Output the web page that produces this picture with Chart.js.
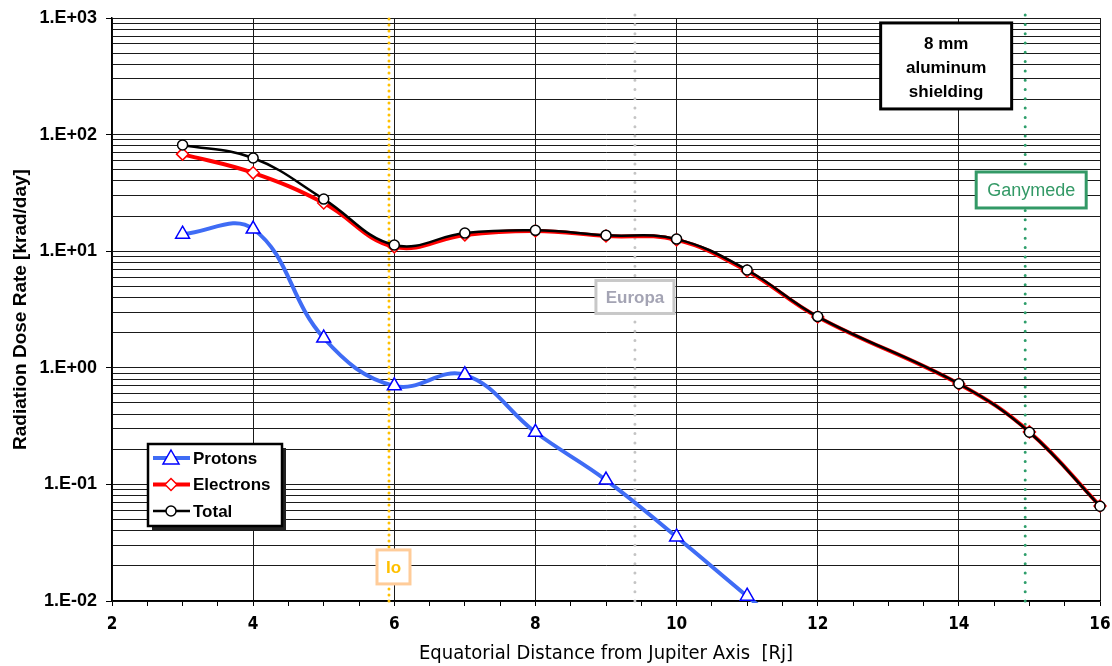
<!DOCTYPE html>
<html>
<head>
<meta charset="utf-8">
<script src="https://cdn.jsdelivr.net/npm/chart.js@4.4.1/dist/chart.umd.min.js"></script>
<style>
  body { margin: 0; background: #fff; }
  #wrap { width: 1112px; height: 666px; }
</style>
</head>
<body>
<div id="wrap"><canvas id="doseChart" width="1112" height="666"></canvas></div>
<script>
// values (krad/day)
const protonX = [3, 4, 5, 6, 7, 8, 9, 10, 11, 12];
const protons = [14.0, 15.5, 1.8, 0.70, 0.87, 0.28, 0.109, 0.0354, 0.011, 0.0035];
const electronX = [3, 4, 5, 6, 7, 8, 9, 10, 11, 12, 14, 15, 16];
const electrons = [68, 47, 25.9, 10.9, 13.8, 14.9, 13.5, 12.5, 6.76, 2.73, 0.727, 0.282, 0.0653];
const total = [81.5, 63, 28, 11.3, 14.3, 15.1, 13.7, 12.7, 6.9, 2.75, 0.73, 0.28, 0.065];

const xTickLabels = ['2', '4', '6', '8', '10', '12', '14', '16'];
const yTickLabels = ['1.E-02', '1.E-01', '1.E+00', '1.E+01', '1.E+02', '1.E+03'];

const moons = ['Io', 'Europa', 'Ganymede'];
const moonX = [5.925, 9.41, 14.94];
const moonLabelY = [0.0196, 4.05, 33.5];

const narrow = "'Liberation Sans Narrow', 'DejaVu Sans Condensed', Arial, sans-serif";
const sans = "'Liberation Sans', Arial, sans-serif";

const pts = (xs, ys) => xs.map((x, i) => ({ x: x, y: ys[i] }));
const isPow10 = v => Math.abs(Math.log10(v) - Math.round(Math.log10(v))) < 1e-9;

const moonStyle = [
  { line: '#FFC000', gap: 6, box: '#FFCC99', text: '#FFC000', font: 'bold 17px ' + sans, w: 33, h: 34, dx: 4.5 },
  { line: '#C4C4C4', gap: 9.3, box: '#C8C8C8', text: '#A4A4B4', font: 'bold 17px ' + sans, w: 78, h: 33, dx: 0 },
  { line: '#2E9E6B', gap: 9.3, box: '#339966', text: '#339966', font: '18px ' + sans, w: 110, h: 36, dx: 6 }
];

function box(ctx, cx, cy, w, h, border, lw) {
  ctx.fillStyle = '#fff';
  ctx.fillRect(cx - w / 2, cy - h / 2, w, h);
  ctx.strokeStyle = border;
  ctx.lineWidth = lw;
  ctx.strokeRect(cx - w / 2, cy - h / 2, w, h);
}

const overlay = {
  id: 'overlay',
  beforeDatasetsDraw(chart) {
    const { ctx, chartArea: a, scales: { x } } = chart;
    ctx.save();
    moons.forEach((m, i) => {
      const px = x.getPixelForValue(moonX[i]);
      ctx.strokeStyle = moonStyle[i].line;
      ctx.lineWidth = 3;
      ctx.lineCap = 'round';
      ctx.setLineDash([0, moonStyle[i].gap]);
      ctx.beginPath();
      ctx.moveTo(px, a.bottom);
      ctx.lineTo(px, a.top - 3);
      ctx.stroke();
    });
    ctx.restore();
  },
  afterDatasetsDraw(chart) {
    const { ctx, scales: { x, y } } = chart;
    ctx.save();
    ctx.textAlign = 'center';
    ctx.textBaseline = 'middle';

    // moon labels
    moons.forEach((m, i) => {
      const s = moonStyle[i];
      const cx = x.getPixelForValue(moonX[i]) + s.dx;
      const cy = y.getPixelForValue(moonLabelY[i]);
      box(ctx, cx, cy, s.w, s.h, s.box, 3);
      ctx.fillStyle = s.text;
      ctx.font = s.font;
      ctx.fillText(m, cx, cy + 1);
    });

    // shielding note
    const nx = x.getPixelForValue(13.82), ny = y.getPixelForValue(388);
    box(ctx, nx, ny, 131, 86, '#000', 3);
    ctx.fillStyle = '#000';
    ctx.font = 'bold 17px ' + sans;
    ['8 mm', 'aluminum', 'shielding'].forEach((t, k) => ctx.fillText(t, nx, ny - 22 + k * 24));

    // legend
    const lx = 148, ly = 444, lw = 134, lh = 82;
    ctx.fillStyle = '#222';
    ctx.fillRect(lx + 4, ly + 4, lw, lh);
    box(ctx, lx + lw / 2, ly + lh / 2, lw, lh, '#000', 2.5);
    ctx.textAlign = 'left';
    ctx.font = 'bold 17px ' + sans;
    chart.data.datasets.forEach((ds, k) => {
      const yy = ly + 14 + k * 26.5;
      ctx.strokeStyle = ds.borderColor;
      ctx.lineWidth = ds.borderWidth;
      ctx.beginPath();
      ctx.moveTo(lx + 5, yy);
      ctx.lineTo(lx + 42, yy);
      ctx.stroke();
      ctx.fillStyle = '#fff';
      ctx.strokeStyle = ds.pointBorderColor;
      ctx.lineWidth = 1.5;
      ctx.beginPath();
      const r = ds.pointRadius;
      if (ds.pointStyle === 'triangle') {
        ctx.moveTo(lx + 23, yy - r); ctx.lineTo(lx + 23 + r, yy + r * 0.75); ctx.lineTo(lx + 23 - r, yy + r * 0.75);
      } else if (ds.pointStyle === 'rectRot') {
        ctx.moveTo(lx + 23, yy - r); ctx.lineTo(lx + 23 + r, yy); ctx.lineTo(lx + 23, yy + r); ctx.lineTo(lx + 23 - r, yy);
      } else {
        ctx.arc(lx + 23, yy, r, 0, Math.PI * 2);
      }
      ctx.closePath();
      ctx.fill();
      ctx.stroke();
      ctx.fillStyle = '#000';
      ctx.fillText(ds.label, lx + 45, yy + 1);
    });
    ctx.restore();
  }
};

new Chart(document.getElementById('doseChart').getContext('2d'), {
  type: 'line',
  data: {
    datasets: [
      {
        label: 'Protons', data: pts(protonX, protons), order: 2,
        borderColor: '#3F6CF5', borderWidth: 4, tension: 0.4,
        pointStyle: 'triangle', pointRadius: 8, pointBorderColor: '#0000FF',
        pointBackgroundColor: '#fff', pointBorderWidth: 1.5,
        clip: { left: 10, top: 10, right: 10, bottom: 2 }
      },
      {
        label: 'Electrons', data: pts(electronX, electrons), order: 1,
        borderColor: '#FF0000', borderWidth: 4, tension: 0.4,
        pointStyle: 'rectRot', pointRadius: 6, pointBorderColor: '#FF0000',
        pointBackgroundColor: '#fff', pointBorderWidth: 1.5, clip: 10
      },
      {
        label: 'Total', data: pts(electronX, total), order: 0,
        borderColor: '#000', borderWidth: 2.5, tension: 0.4,
        pointStyle: 'circle', pointRadius: 5, pointBorderColor: '#000',
        pointBackgroundColor: '#fff', pointBorderWidth: 1.5, clip: 10
      }
    ]
  },
  options: {
    responsive: false,
    animation: false,
    devicePixelRatio: 1,
    layout: { padding: { left: 0, top: 18, right: 12, bottom: 0 } },
    plugins: { legend: { display: false }, tooltip: { enabled: false } },
    scales: {
      x: {
        type: 'linear', min: 2, max: 16,
        afterBuildTicks: s => {
          const t = [];
          for (let v = 2; v <= 16; v += 0.5) t.push({ value: v });
          s.ticks = t;
        },
        afterFit: s => { s.height = 65; s.paddingLeft = 0; s.paddingRight = 0; },
        ticks: {
          autoSkip: false, maxRotation: 0, padding: 8, color: '#000',
          font: { family: narrow, size: 17, weight: 'bold' },
          callback: v => (v % 2 === 0 ? xTickLabels[(v - 2) / 2] : '')
        },
        grid: {
          color: c => (c.tick && c.tick.value % 2 === 0 ? '#1a1a1a' : 'rgba(0,0,0,0)'),
          tickColor: '#000', tickLength: 5, lineWidth: 1
        },
        border: { color: '#000', width: 1.5 },
        title: {
          display: true, text: 'Equatorial Distance from Jupiter Axis  [Rj]', color: '#000',
          font: { family: narrow, size: 20 }, padding: { top: 0, bottom: 0 }
        }
      },
      y: {
        type: 'logarithmic', min: 0.01, max: 1000,
        afterBuildTicks: s => {
          const t = [];
          for (let e = -2; e <= 2; e++) for (let m = 1; m <= 9; m++) t.push({ value: m * Math.pow(10, e) });
          t.push({ value: 1000 });
          s.ticks = t;
        },
        afterFit: s => { s.width = 112; s.paddingTop = 0; s.paddingBottom = 0; },
        ticks: {
          autoSkip: false, padding: 9, color: '#000',
          font: { family: sans, size: 18, weight: 'bold' },
          callback: v => (isPow10(v) ? yTickLabels[Math.round(Math.log10(v)) + 2] : '')
        },
        grid: {
          color: '#1a1a1a', lineWidth: 1, tickLength: 6,
          tickColor: c => (c.tick && isPow10(c.tick.value) ? '#000' : 'rgba(0,0,0,0)')
        },
        border: { color: '#000', width: 1.5 },
        title: {
          display: true, text: 'Radiation Dose Rate [krad/day]', color: '#000',
          font: { family: sans, size: 19, weight: 'bold' }, padding: { top: 9, bottom: 0 }
        }
      }
    }
  },
  plugins: [overlay]
});
</script>
</body>
</html>
